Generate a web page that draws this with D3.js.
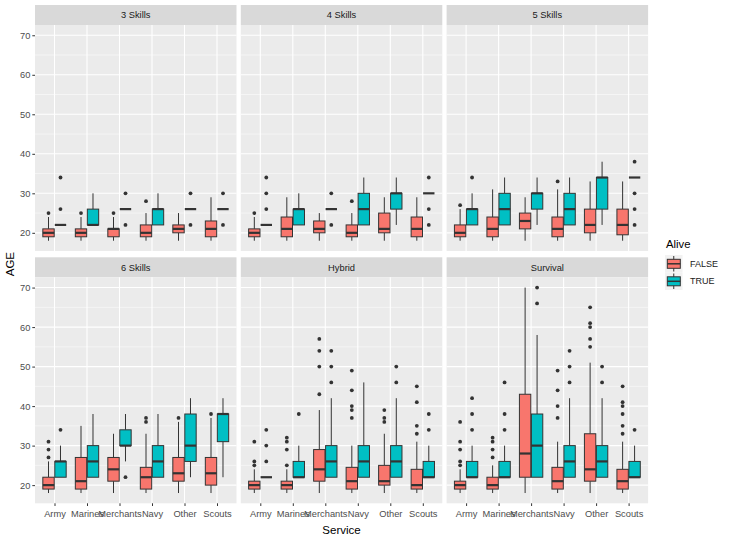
<!DOCTYPE html>
<html>
<head>
<meta charset="utf-8">
<script src="https://cdn.jsdelivr.net/npm/d3@7"></script>
<style>
body { margin: 0; background: #fff; }
svg text { font-family: "Liberation Sans", Arial, sans-serif; }
</style>
</head>
<body>
<div id="chart"></div>
<script>
// categories
var facets = ["3 Skills", "4 Skills", "5 Skills", "6 Skills", "Hybrid", "Survival"];
var services = ["Army", "Marines", "Merchants", "Navy", "Other", "Scouts"];
var aliveLevels = ["FALSE", "TRUE"];
var yTicks = [20, 30, 40, 50, 60, 70];

// box stats per facet: [lower whisker, q1, median, q3, upper whisker]
// order: Army F, Army T, Marines F, Marines T, Merchants F, Merchants T, Navy F, Navy T, Other F, Other T, Scouts F, Scouts T
var stats3 = [[18,19,20,21,24],[22,22,22,22,22],[18,19,20,21,24],[22,22,22,26,30],[18,19,21,21,24],[26,26,26,26,26],
              [18,19,20,22,25],[22,22,26,26,30],[18,20,21,22,25],[26,26,26,26,26],[18,19,21,23,29],[26,26,26,26,26]];
var out3 = [[25],[26,34],[25],[],[25],[22,30],[28],[],[],[22,30],[],[22,30]];

var stats4 = [[18,19,20,21,24],[22,22,22,22,22],[18,19,21,24,29],[22,22,26,26,30],[18,20,21,23,25],[26,26,26,26,26],
              [18,19,20,22,25],[22,22,26,30,34],[18,20,21,25,29],[22,26,30,30,34],[18,19,21,24,29],[30,30,30,30,30]];
var out4 = [[25],[26,30,34],[],[],[],[22,30],[28],[],[],[],[],[22,26,34]];

var stats5 = [[18,19,20,22,26],[22,22,26,26,30],[18,19,21,24,31],[22,22,26,30,34],[18,21,23,25,29],[22,26,30,30,34],
              [18,19,21,24,31],[22,22,26,30,34],[18,20,22,26,33],[22,26,34,34,38],[18,19.5,22,26,33],[34,34,34,34,34]];
var out5 = [[27],[34],[],[],[],[],[33],[],[],[],[],[22,26,30,38]];

var stats6 = [[18,19,20,22,26],[22,22,26,26,30],[18,19,21,27,35],[22,22,26,30,38],[18,21,24,27,33],[26,30,30,34,38],
              [18,19,22,24.5,33],[22,22,26,30,38],[18,21,23,27,36],[22,26,30,38,42],[18,20,23,27,37],[22,31,38,38,42]];
var out6 = [[27,29,31],[34],[],[],[],[22],[36,37],[],[37],[],[38],[]];

var statsHybrid = [[18,19,20,21,24],[22,22,22,22,22],[18,19,20,21,24],[22,22,22,26,30],[18,21,24,29,39],[22,22,26,30,42],
                   [18,19,21,24.5,30],[22,22,26,30,46],[18,20,21,25,33],[22,22,26,30,42],[18,19,20,24,31],[22,22,22,26,30]];
var outHybrid = [[25,26,31],[26,30,34],[25,29,31,32],[38],[43,50,54,57],[46,50,54],
                 [37,39,40,44,49],[],[36,37,39],[46,50],[33,35,41,45],[34,38]];

var statsSurvival = [[18,19,20,21,24],[22,22,22,26,30],[18,19,20,22,25],[22,22,22,26,30],[18,22,28,43,70],[22,22,30,38,58],
                     [18,19,21,24.5,31],[22,22,26,30,42],[18,21,24,33,51],[22,22,26,30,42],[18,19,21,24,31],[22,22,22,26,30]];
var outSurvival = [[25,26,29,31,36],[34,38,42],[27,29,31,32],[34,38,46],[],[66,70],
                   [37,40,44,49],[46,50,54],[55,57,60,61,65],[46,50],[33,35,38,40,41,45],[34]];

var allStats = [stats3, stats4, stats5, stats6, statsHybrid, statsSurvival];
var allOut = [out3, out4, out5, out6, outHybrid, outSurvival];

var fillColors = {"FALSE": "#F8766D", "TRUE": "#00BFC4"};

// build rows
var boxes = [];
facets.forEach(function(f, fi){
    allStats[fi].forEach(function(s, k){
        boxes.push({
            facet: f,
            service: services[Math.floor(k / 2)],
            alive: aliveLevels[k % 2],
            low: s[0], q1: s[1], med: s[2], q3: s[3], high: s[4],
            outliers: allOut[fi][k]
        });
    });
});

var width = 730, height = 540;
var panelLeft = 35, panelW = 201.5, panelGap = 4.3;
var stripH = 20;
var rowTops = [25, 277.3];   // panel tops
var panelH = 226;

var svg = d3.select("#chart").append("svg")
    .attr("width", width)
    .attr("height", height);

// y scale from data with 5% expansion
var vals = [];
boxes.forEach(function(b){ vals.push(b.low, b.high); b.outliers.forEach(function(o){ vals.push(o); }); });
var ext = d3.extent(vals);
var pad = (ext[1] - ext[0]) * 0.05;

// x: category positions with 0.6 expansion
var xPos = d3.scaleLinear().domain([0.4, services.length + 0.6]).range([0, panelW]);
var boxW = xPos(1.35) - xPos(1);

facets.forEach(function(f, fi){
    var col = fi % 3, row = Math.floor(fi / 3);
    var px = panelLeft + col * (panelW + panelGap);
    var py = rowTops[row];

    var y = d3.scaleLinear().domain([ext[0] - pad, ext[1] + pad]).range([py + panelH, py]);

    var g = svg.append("g").attr("transform", "translate(" + px + ",0)");

    // strip
    g.append("rect").attr("x", 0).attr("y", py - stripH).attr("width", panelW).attr("height", stripH)
        .attr("fill", "#D9D9D9");
    g.append("text").attr("x", panelW / 2).attr("y", py - stripH / 2).attr("dy", "0.35em")
        .attr("text-anchor", "middle").attr("font-size", 9.3).attr("fill", "#1A1A1A").text(f);

    // panel background
    g.append("rect").attr("x", 0).attr("y", py).attr("width", panelW).attr("height", panelH)
        .attr("fill", "#EBEBEB");

    // minor grid
    var minor = d3.range(25, 70, 10);
    g.selectAll(".minor").data(minor).enter().append("line")
        .attr("x1", 0).attr("x2", panelW)
        .attr("y1", function(d){ return y(d); }).attr("y2", function(d){ return y(d); })
        .attr("stroke", "#fff").attr("stroke-width", 0.5);
    // major grid
    g.selectAll(".major").data(yTicks).enter().append("line")
        .attr("x1", 0).attr("x2", panelW)
        .attr("y1", function(d){ return y(d); }).attr("y2", function(d){ return y(d); })
        .attr("stroke", "#fff").attr("stroke-width", 1.1);
    g.selectAll(".vgrid").data(services).enter().append("line")
        .attr("x1", function(d, i){ return xPos(i + 1); }).attr("x2", function(d, i){ return xPos(i + 1); })
        .attr("y1", py).attr("y2", py + panelH)
        .attr("stroke", "#fff").attr("stroke-width", 1.1);

    // y axis on first column
    if (col == 0) {
        var yAxis = d3.axisLeft(y).tickValues(yTicks).tickSize(2.7).tickPadding(2);
        var ag = svg.append("g").attr("transform", "translate(" + px + ",0)").call(yAxis);
        ag.select(".domain").remove();
        ag.selectAll(".tick line").attr("stroke", "#333333");
        ag.selectAll(".tick text").attr("font-size", 9.3).attr("fill", "#4D4D4D")
            .style("font-family", "Liberation Sans, Arial, sans-serif");
    }
    // x axis on bottom row
    if (row == 1) {
        var xBand = d3.scalePoint().domain(services).range([xPos(1), xPos(services.length)]);
        var xAxis = d3.axisBottom(xBand).tickSize(2.7).tickPadding(4.5);
        var xg = svg.append("g").attr("transform", "translate(" + px + "," + (py + panelH) + ")").call(xAxis);
        xg.select(".domain").remove();
        xg.selectAll(".tick line").attr("stroke", "#333333");
        xg.selectAll(".tick text").attr("font-size", 9.3).attr("fill", "#4D4D4D")
            .style("font-family", "Liberation Sans, Arial, sans-serif");
    }

    // boxes
    var fb = boxes.filter(function(b){ return b.facet == f; });
    var bg = g.selectAll(".box").data(fb).enter().append("g");

    function cx(b){
        var c = xPos(services.indexOf(b.service) + 1);
        return b.alive == "FALSE" ? c - boxW / 2 - 0.3 : c + boxW / 2 + 0.3;
    }

    bg.append("line")
        .attr("x1", cx).attr("x2", cx)
        .attr("y1", function(b){ return y(b.high); }).attr("y2", function(b){ return y(b.q3); })
        .attr("stroke", "#333333").attr("stroke-width", 1);
    bg.append("line")
        .attr("x1", cx).attr("x2", cx)
        .attr("y1", function(b){ return y(b.q1); }).attr("y2", function(b){ return y(b.low); })
        .attr("stroke", "#333333").attr("stroke-width", 1);
    bg.append("rect")
        .attr("x", function(b){ return cx(b) - boxW / 2; })
        .attr("y", function(b){ return y(b.q3); })
        .attr("width", boxW)
        .attr("height", function(b){ return y(b.q1) - y(b.q3); })
        .attr("fill", function(b){ return fillColors[b.alive]; })
        .attr("stroke", "#333333").attr("stroke-width", 1);
    bg.append("line")
        .attr("x1", function(b){ return cx(b) - boxW / 2; })
        .attr("x2", function(b){ return cx(b) + boxW / 2; })
        .attr("y1", function(b){ return y(b.med); }).attr("y2", function(b){ return y(b.med); })
        .attr("stroke", "#333333").attr("stroke-width", 2.2);
    bg.each(function(b){
        d3.select(this).selectAll("circle").data(b.outliers).enter().append("circle")
            .attr("cx", cx(b)).attr("cy", function(o){ return y(o); })
            .attr("r", 1.9).attr("fill", "#333333");
    });
});

// axis titles
var plotRight = panelLeft + 3 * panelW + 2 * panelGap;
svg.append("text").attr("x", (panelLeft + plotRight) / 2).attr("y", 534)
    .attr("text-anchor", "middle").attr("font-size", 11.5).text("Service");
svg.append("text").attr("transform", "translate(14," + ((rowTops[0] + rowTops[1] + panelH) / 2) + ") rotate(-90)")
    .attr("text-anchor", "middle").attr("font-size", 11.5).text("AGE");

// legend
var leg = svg.append("g").attr("transform", "translate(665,0)");
leg.append("text").attr("x", 1).attr("y", 248).attr("font-size", 11.3).text("Alive");
aliveLevels.forEach(function(a, i){
    var ky = 255 + i * 17.5;
    leg.append("rect").attr("x", 0).attr("y", ky).attr("width", 17.5).attr("height", 17.5).attr("fill", "#F2F2F2");
    leg.append("line").attr("x1", 8.75).attr("x2", 8.75).attr("y1", ky + 1).attr("y2", ky + 16.5)
        .attr("stroke", "#333333").attr("stroke-width", 1);
    leg.append("rect").attr("x", 2.3).attr("y", ky + 4.3).attr("width", 13).attr("height", 9)
        .attr("fill", fillColors[a]).attr("stroke", "#333333").attr("stroke-width", 1);
    leg.append("line").attr("x1", 2.3).attr("x2", 15.3).attr("y1", ky + 8.8).attr("y2", ky + 8.8)
        .attr("stroke", "#333333").attr("stroke-width", 1.5);
    leg.append("text").attr("x", 25).attr("y", ky + 8.75).attr("dy", "0.35em")
        .attr("font-size", 9).attr("fill", "#1A1A1A").text(a);
});
</script>
</body>
</html>
